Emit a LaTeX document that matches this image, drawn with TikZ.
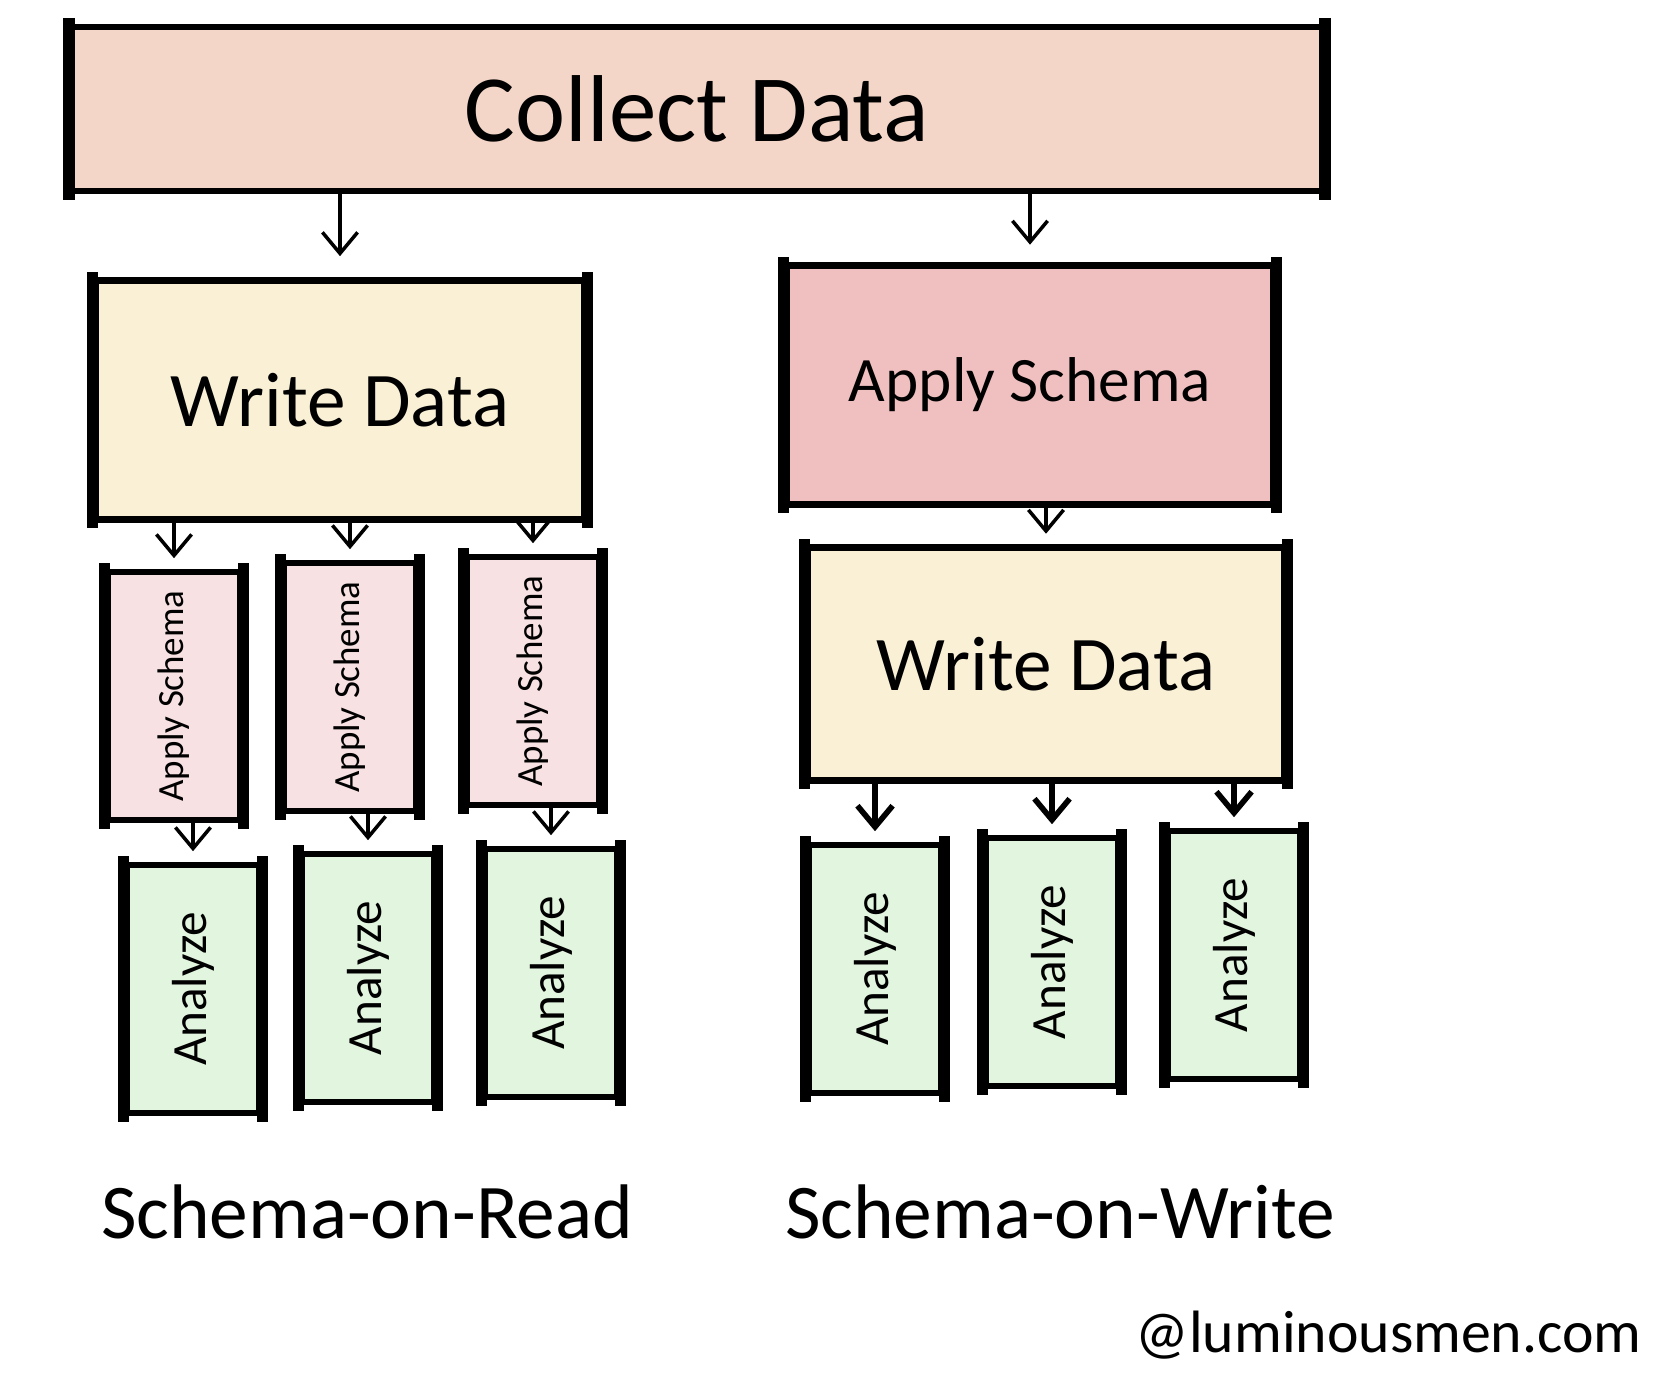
\documentclass[tikz,border=0pt]{standalone}
\usepackage{fontspec}
\setmainfont{Carlito}
\usetikzlibrary{arrows.meta,positioning}
\definecolor{collectfill}{RGB}{243,214,200}
\definecolor{writefill}{RGB}{249,240,214}
\definecolor{schemafill}{RGB}{240,192,192}
\definecolor{applyfill}{RGB}{248,225,226}
\definecolor{analyzefill}{RGB}{226,245,222}
\tikzset{
    %Define standard arrow tip
    >={Straight Barb[length=6pt,width=10pt]},
    %Define style for boxes
    sketch/.style={
           draw=black, line width=1.8pt,
           inner sep=0pt,
           text centered},
    collectbox/.style={
           sketch, fill=collectfill,
           minimum width=12.49cm, minimum height=1.64cm,
           font=\fontsize{27}{30}\selectfont},
    writebox/.style={
           sketch, fill=writefill,
           minimum width=4.88cm, minimum height=2.39cm,
           font=\fontsize{22}{25}\selectfont},
    schemabox/.style={
           sketch, fill=schemafill,
           minimum width=4.86cm, minimum height=2.39cm,
           font=\fontsize{18}{22}\selectfont},
    applybox/.style={
           sketch, fill=applyfill,
           minimum width=1.33cm, minimum height=2.48cm},
    analyzebox/.style={
           sketch, fill=analyzefill,
           minimum width=1.32cm, minimum height=2.48cm},
    vtext/.style={rotate=90, font=\fontsize{10.5}{12}\selectfont},
    atext/.style={rotate=90, font=\fontsize{14}{17}\selectfont},
    caption/.style={font=\fontsize{22}{26}\selectfont},
    % Define arrow style
    pil/.style={->, line width=1pt, shorten >=3pt},
    bigpil/.style={->, line width=1.6pt, shorten >=3pt},
    side/.style={line width=3.2pt, line cap=rect}
}
\begin{document}
\begin{tikzpicture}[x=0.01cm, y=-0.01cm]
 \fill[white] (0,0) rectangle (1664,1372);
 \useasboundingbox (0,0) rectangle (1664,1372);
 %nodes
 \node[collectbox] (collect) at (697,109) {Collect Data};
 \node[writebox] (writeL) at (340,400) {Write Data};
 \node[schemabox] (schemaR) at (1030,385) {Apply Schema};
 \node[writebox, minimum width=4.77cm, minimum height=2.33cm] (writeR) at (1046,664) {Write Data};
 % schema-on-read columns
 \node[applybox, label={[vtext]center:Apply Schema}] (applyL1) at (174,696) {};
 \node[applybox, label={[vtext]center:Apply Schema}] (applyL2) at (350,687) {};
 \node[applybox, label={[vtext]center:Apply Schema}] (applyL3) at (533,681) {};
 \node[analyzebox, label={[atext]center:Analyze}] (analyzeL1) at (193,989) {};
 \node[analyzebox, label={[atext]center:Analyze}] (analyzeL2) at (368,978) {};
 \node[analyzebox, label={[atext]center:Analyze}] (analyzeL3) at (551,973) {};
 % schema-on-write columns
 \node[analyzebox, label={[atext]center:Analyze}] (analyzeR1) at (875,969) {};
 \node[analyzebox, label={[atext]center:Analyze}] (analyzeR2) at (1052,962) {};
 \node[analyzebox, label={[atext]center:Analyze}] (analyzeR3) at (1234,955) {};
 % captions
 \node[caption] (read) at (367,1212) {Schema-on-Read};
 \node[caption] (write) at (1060,1212) {Schema-on-Write};
 \node[font=\fontsize{17}{20}\selectfont, anchor=east] (site) at (1654,1335) {@luminousmen.com};
 % thick sides
 \foreach \n in {collect,writeL,schemaR,writeR,applyL1,applyL2,applyL3,
   analyzeL1,analyzeL2,analyzeL3,analyzeR1,analyzeR2,analyzeR3}
   \draw[side] (\n.north west) -- (\n.south west) (\n.north east) -- (\n.south east);
 % arrows
 \draw[pil, shorten >=6pt] (collect.south -| writeL.north) -- (writeL.north);
 \draw[pil, shorten >=5pt] (collect.south -| schemaR.north) -- (schemaR.north);
 \draw[pil] (writeL.south -| applyL1.north) -- (applyL1.north);
 \draw[pil] (writeL.south -| applyL2.north) -- (applyL2.north);
 \draw[pil] (writeL.south -| applyL3.north) -- (applyL3.north);
 \draw[pil] (applyL1.south -| analyzeL1.north) -- (analyzeL1.north);
 \draw[pil] (applyL2.south -| analyzeL2.north) -- (analyzeL2.north);
 \draw[pil] (applyL3.south -| analyzeL3.north) -- (analyzeL3.north);
 \draw[pil] (schemaR.south -| writeR.north) -- (writeR.north);
 \draw[bigpil] (writeR.south -| analyzeR1.north) -- (analyzeR1.north);
 \draw[bigpil] (writeR.south -| analyzeR2.north) -- (analyzeR2.north);
 \draw[bigpil] (writeR.south -| analyzeR3.north) -- (analyzeR3.north);
\end{tikzpicture}
\end{document}
